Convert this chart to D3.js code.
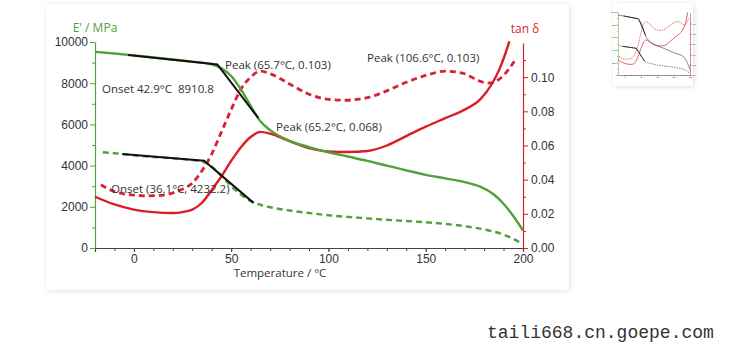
<!DOCTYPE html>
<html>
<head>
<meta charset="utf-8">
<script src="https://cdn.jsdelivr.net/npm/d3@7"></script>
<style>
  body { margin: 0; background: #fff; }
  svg { display: block; font-family: "Open Sans", "Noto Sans", sans-serif; }
  .note { white-space: pre; }
</style>
</head>
<body>
<script>
const width = 750;
const height = 350;

// E' (MPa) sample 1, solid green
const eSolid = [
  [-20, 9520], [-10, 9440], [0, 9350], [10, 9250], [20, 9150], [30, 9050], [35, 9000],
  [40, 8920], [45, 8720], [50, 8350], [55, 7700], [60, 6900], [65, 6150], [70, 5720],
  [80, 5200], [90, 4900], [100, 4650], [110, 4440], [120, 4230], [130, 4000],
  [140, 3770], [150, 3550], [160, 3380], [170, 3200], [178, 2980], [185, 2600],
  [190, 2150], [195, 1550], [200, 850]
];
// E' (MPa) sample 2, dashed green
const eDashed = [
  [-16, 4650], [-10, 4600], [0, 4500], [10, 4420], [20, 4350], [30, 4270], [35, 4200],
  [40, 3950], [45, 3500], [50, 3000], [55, 2600], [60, 2280], [65, 2100], [70, 1980],
  [80, 1820], [90, 1700], [100, 1590], [110, 1510], [120, 1440], [130, 1370],
  [140, 1310], [150, 1250], [160, 1170], [170, 1060], [180, 900], [190, 650], [198, 300]
];
// tan delta sample 1, solid red
const tanSolid = [
  [-20, 0.030], [-10, 0.0255], [0, 0.0225], [10, 0.021], [20, 0.0205], [25, 0.021],
  [30, 0.0225], [35, 0.0265], [40, 0.034], [45, 0.042], [50, 0.051], [55, 0.059],
  [60, 0.065], [65, 0.068], [70, 0.067], [80, 0.0625], [90, 0.0585], [100, 0.0565],
  [110, 0.0562], [120, 0.0568], [130, 0.060], [140, 0.0655], [150, 0.071],
  [160, 0.076], [170, 0.081], [178, 0.087], [184, 0.096], [188, 0.105],
  [191, 0.114], [193, 0.121]
];
// tan delta sample 2, dashed red
const tanDashed = [
  [-17, 0.037], [-10, 0.033], [0, 0.031], [7, 0.0305], [15, 0.031], [24, 0.034],
  [30, 0.038], [36, 0.047], [40, 0.055], [45, 0.068], [50, 0.081], [55, 0.093],
  [60, 0.100], [65, 0.1035], [70, 0.102], [80, 0.096], [90, 0.090], [100, 0.087],
  [108, 0.0865], [120, 0.088], [130, 0.092], [140, 0.097], [150, 0.101],
  [160, 0.1035], [170, 0.102], [177, 0.098], [182, 0.0965], [188, 0.099], [196, 0.110]
];
// onset tangent lines (black)
const onset1 = [[-3, 9370], [42.9, 8910.8], [64, 6300]];
const onset2 = [[-6, 4560], [36.1, 4232.2], [61.5, 2190]];

const xTicks = [0, 50, 100, 150, 200];
const eTicks = [0, 2000, 4000, 6000, 8000, 10000];
const tanTicks = [0, 0.02, 0.04, 0.06, 0.08, 0.10];

const notes = [
  ["Peak (65.7°C, 0.103)", 225, 69],
  ["Onset 42.9°C  8910.8", 102, 93],
  ["Peak (65.2°C, 0.068)", 276, 131],
  ["Peak (106.6°C, 0.103)", 367, 62],
  ["Onset (36.1°C, 4232.2)", 111, 193]
];

const green = "#52a03a";
const red = "#d91f26";
const redDash = "#d5243a";

const svg = d3.select("body").append("svg")
    .attr("width", width)
    .attr("height", height);

const defs = svg.append("defs");
defs.append("filter").attr("id", "shadow")
    .attr("x", "-10%").attr("y", "-10%").attr("width", "120%").attr("height", "120%")
  .append("feDropShadow")
    .attr("dx", 1).attr("dy", 1).attr("stdDeviation", 2.5)
    .attr("flood-color", "#000").attr("flood-opacity", 0.12);

// panels
svg.append("rect").attr("x", 46).attr("y", 4).attr("width", 523).attr("height", 286)
    .attr("fill", "#fff").attr("filter", "url(#shadow)");
svg.append("rect").attr("x", 613).attr("y", 3).attr("width", 80).attr("height", 83)
    .attr("fill", "#fff").attr("filter", "url(#shadow)");

function drawChart(g, box, small) {
  const x = d3.scaleLinear().domain([-20, 200]).range([box.x0, box.x1]);
  const yE = d3.scaleLinear().domain([0, 10000]).range([box.y0, box.y1]);
  const yT = d3.scaleLinear().domain([0, 0.12]).range([box.y0, box.y1 + 1]);
  const s = small ? 0.18 : 1;

  const lineE = d3.line().x(d => x(d[0])).y(d => yE(d[1])).curve(d3.curveMonotoneX);
  const lineT = d3.line().x(d => x(d[0])).y(d => yT(d[1])).curve(d3.curveMonotoneX);
  const straight = d3.line().x(d => x(d[0])).y(d => yE(d[1]));

  // axes
  const ax = g.append("g").attr("transform", `translate(0,${box.y0})`)
      .call(d3.axisBottom(x).tickValues(d3.range(-10, 201, 10)).tickSize(3 * s).tickFormat(""));
  ax.selectAll("line").attr("stroke", "#444");
  g.append("g").attr("transform", `translate(0,${box.y0})`)
      .call(d3.axisBottom(x).tickValues(xTicks).tickSize(4 * s).tickPadding(2 * s))
      .call(a => a.select(".domain").attr("stroke", "#444").attr("stroke-width", small ? 0.5 : 1.2))
      .call(a => a.selectAll("line").attr("stroke", "#444"))
      .call(a => a.selectAll("text").attr("fill", "#333").attr("font-size", 12 * s));
  ax.select(".domain").remove();

  const al = g.append("g").attr("transform", `translate(${box.x0},0)`)
      .call(d3.axisLeft(yE).tickValues(d3.range(1000, 10000, 2000)).tickSize(3 * s).tickFormat(""));
  al.select(".domain").remove();
  al.selectAll("line").attr("stroke", green);
  g.append("g").attr("transform", `translate(${box.x0},0)`)
      .call(d3.axisLeft(yE).tickValues(eTicks).tickSize(5 * s).tickSizeOuter(0).tickPadding(2 * s).tickFormat(d3.format("d")))
      .call(a => a.select(".domain").attr("stroke", green).attr("stroke-width", small ? 0.5 : 1.2))
      .call(a => a.selectAll("line").attr("stroke", green))
      .call(a => a.selectAll("text").attr("fill", "#333").attr("font-size", 12 * s));

  const ar = g.append("g").attr("transform", `translate(${box.x1},0)`)
      .call(d3.axisRight(yT).tickValues([0.01, 0.03, 0.05, 0.07, 0.09, 0.11]).tickSize(3 * s).tickFormat(""));
  ar.select(".domain").remove();
  ar.selectAll("line").attr("stroke", red);
  g.append("g").attr("transform", `translate(${box.x1},0)`)
      .call(d3.axisRight(yT).tickValues(tanTicks).tickSize(5 * s).tickSizeOuter(0).tickPadding(3 * s).tickFormat(d3.format(".2f")))
      .call(a => a.select(".domain").attr("stroke", red).attr("stroke-width", small ? 0.5 : 1.2))
      .call(a => a.selectAll("line").attr("stroke", red))
      .call(a => a.selectAll("text").attr("fill", "#333").attr("font-size", 12 * s));

  const lw = small ? 0.7 : 2.4;
  const dash = small ? "1.5,1" : "6,4";

  g.append("path").attr("d", lineT(tanDashed)).attr("fill", "none")
      .attr("stroke", redDash).attr("stroke-width", lw + (small ? 0 : 0.4)).attr("stroke-dasharray", dash);
  g.append("path").attr("d", lineE(eDashed)).attr("fill", "none")
      .attr("stroke", small ? "#555" : green).attr("stroke-width", lw).attr("stroke-dasharray", dash);
  g.append("path").attr("d", lineT(tanSolid)).attr("fill", "none")
      .attr("stroke", red).attr("stroke-width", lw);
  g.append("path").attr("d", lineE(eSolid)).attr("fill", "none")
      .attr("stroke", small ? "#555" : green).attr("stroke-width", lw);
  [onset1, onset2].forEach(o => {
    g.append("path").attr("d", straight(o)).attr("fill", "none")
        .attr("stroke", "#111").attr("stroke-width", small ? 0.8 : 2);
  });

  return { x, s };
}

const main = svg.append("g");
drawChart(main, { x0: 95, x1: 523, y0: 248, y1: 42 }, false);

// annotation texts
main.selectAll(".note").data(notes).join("text")
    .attr("class", "note")
    .attr("x", d => d[1]).attr("y", d => d[2])
    .attr("fill", "#333").attr("font-size", 11.5)
    .text(d => d[0]);

main.append("text").attr("x", 280).attr("y", 277).attr("text-anchor", "middle")
    .attr("fill", "#333").attr("font-size", 11.5).text("Temperature / °C");
main.append("text").attr("x", 95).attr("y", 32).attr("text-anchor", "middle")
    .attr("fill", green).attr("font-size", 12).text("E' / MPa");
main.append("text").attr("x", 525).attr("y", 33).attr("text-anchor", "middle")
    .attr("fill", red).attr("font-size", 12).text("tan δ");

// thumbnail
const thumb = svg.append("g");
drawChart(thumb, { x0: 618, x1: 690, y0: 75, y1: 12 }, true);

svg.append("text").attr("x", 487).attr("y", 338)
    .attr("font-family", "'Liberation Mono', 'DejaVu Sans Mono', monospace")
    .attr("font-size", 18).attr("fill", "#333")
    .text("taili668.cn.goepe.com");
</script>
</body>
</html>
